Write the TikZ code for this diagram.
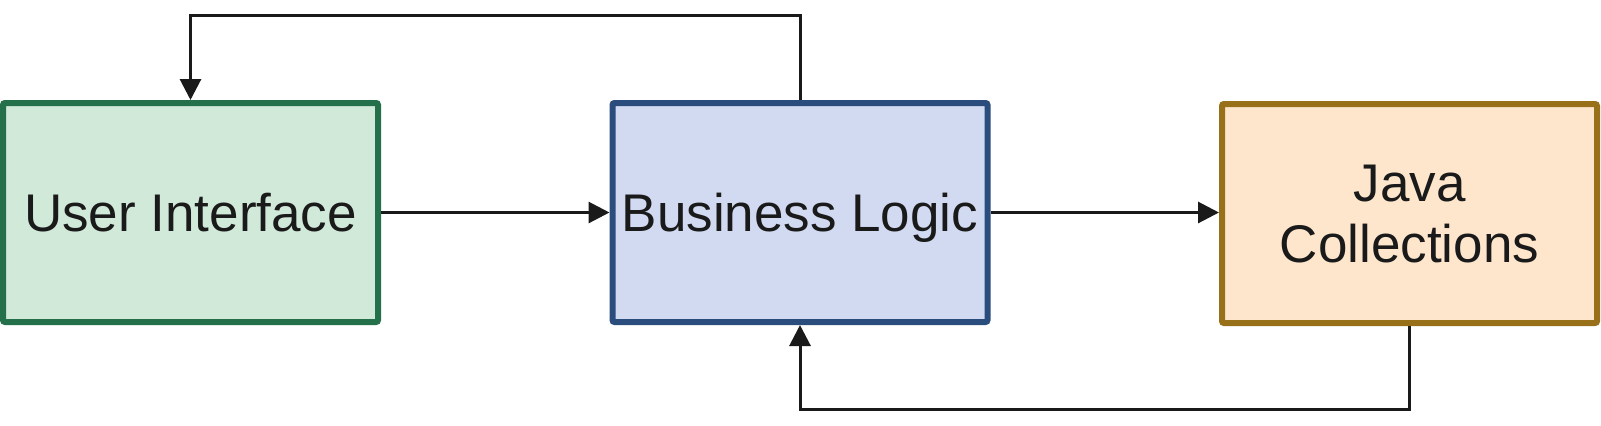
\documentclass[tikz,border=0pt]{standalone}
\usepackage{xcolor}
\usepackage{fontspec}
\setmainfont{Liberation Sans}
\usepackage{tikz}
\usetikzlibrary{arrows.meta, calc}

\definecolor{uifill}{HTML}{D0E9D9}
\definecolor{uiline}{HTML}{23704A}
\definecolor{blfill}{HTML}{D1DAF1}
\definecolor{blline}{HTML}{2A4D7E}
\definecolor{jcfill}{HTML}{FEE6CC}
\definecolor{jcline}{HTML}{98701A}
\definecolor{ink}{HTML}{1A1A1A}

\tikzset{
  block/.style={draw, line width=3pt, rounded corners=1pt, minimum width=187.5pt,
    minimum height=109.5pt, align=center, text=ink, text depth=0pt,
    font=\fontsize{26.5}{30.5}\selectfont},
  conn/.style={draw=ink, line width=1.5pt, -{Triangle[length=10.5pt,width=10.5pt]}}
}

\begin{document}
\begin{tikzpicture}[x=0.5pt, y=-0.5pt]
\useasboundingbox (0,0) rectangle (1601,425);
% Draw boxes
\node[block, fill=uifill, draw=uiline] (ui) at (190.5,212.5) {User Interface};
\node[block, fill=blfill, draw=blline] (bl) at (800,212.5) {Business Logic};
\node[block, fill=jcfill, draw=jcline] (jc) at (1409.5,213.5) {Java\\Collections};
\coordinate (top) at (0,15);
\coordinate (bot) at (0,409);
% Draw arrows
\draw[conn] (ui.east) -- (bl.west);
\draw[conn] (bl.east) -- (bl.east -| jc.west);
\draw[conn] (bl.north) -- (bl.north |- top) -| (ui.north);
\draw[conn] (jc.south) -- (jc.south |- bot) -| (bl.south);
\end{tikzpicture}
\end{document}
